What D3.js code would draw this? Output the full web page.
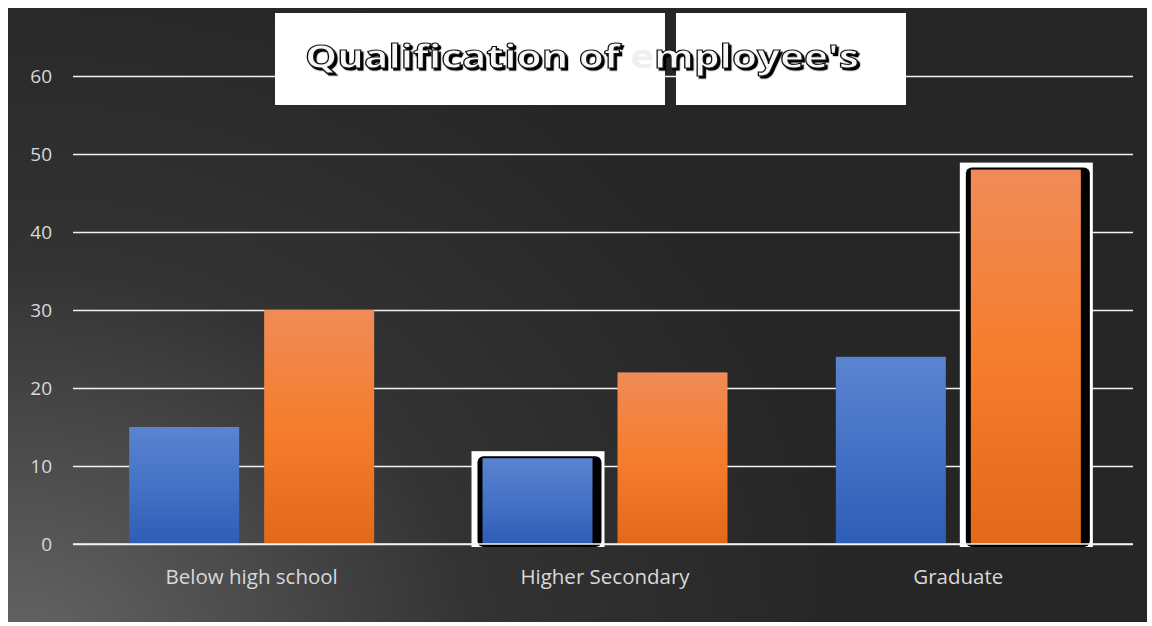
<!DOCTYPE html>
<html><head><meta charset="utf-8">
<script src="https://cdn.jsdelivr.net/npm/d3@7"></script>
<style>html,body{margin:0;padding:0;background:#fff;}svg{display:block;}</style>
</head><body>
<script>
const categories = ["Below high school", "Higher Secondary", "Graduate"];
const seriesA = [15, 11, 24];
const seriesB = [30, 22, 48];
const yTicks = [0, 10, 20, 30, 40, 50, 60];
const titleText = "Qualification of employee's";

const W = 1152, H = 626;
const svg = d3.select("body").append("svg").attr("width", W).attr("height", H);
const defs = svg.append("defs");

const bg = defs.append("radialGradient").attr("id", "bg").attr("gradientUnits", "userSpaceOnUse")
  .attr("cx", 20).attr("cy", 660).attr("r", 720)
  .attr("gradientTransform", "translate(20,660) scale(1.15,1) translate(-20,-660)");
bg.append("stop").attr("offset", "0").attr("stop-color", "#666666");
bg.append("stop").attr("offset", "0.55").attr("stop-color", "#333333");
bg.append("stop").attr("offset", "1").attr("stop-color", "#262626");

const gb = defs.append("linearGradient").attr("id", "gb").attr("x1", 0).attr("x2", 0).attr("y1", 0).attr("y2", 1);
gb.append("stop").attr("offset", "0").attr("stop-color", "#5b84d0");
gb.append("stop").attr("offset", "0.5").attr("stop-color", "#4472c6");
gb.append("stop").attr("offset", "1").attr("stop-color", "#2e5db6");
const go = defs.append("linearGradient").attr("id", "go").attr("x1", 0).attr("x2", 0).attr("y1", 0).attr("y2", 1);
go.append("stop").attr("offset", "0").attr("stop-color", "#f08b58");
go.append("stop").attr("offset", "0.5").attr("stop-color", "#f57d2c");
go.append("stop").attr("offset", "1").attr("stop-color", "#e2691a");

const sh = defs.append("filter").attr("id", "tsh").attr("x", "-5%").attr("y", "-20%").attr("width", "110%").attr("height", "150%");
sh.append("feDropShadow").attr("dx", 2.2).attr("dy", 2.2).attr("stdDeviation", 0.4).attr("flood-color", "#000").attr("flood-opacity", 1);

svg.append("rect").attr("x", 8).attr("y", 8).attr("width", 1139).attr("height", 614).attr("fill", "url(#bg)");

const x = d3.scaleBand().domain(categories).range([75, 1135]).paddingInner(0).paddingOuter(0);
const y = d3.scaleLinear().domain([0, 60]).range([544, 76]);

// gridlines
const yAxis = d3.axisLeft(y).tickValues(yTicks).tickSize(-(1133 - 73)).tickPadding(20);
const gy = svg.append("g").attr("transform", "translate(73,0)").call(yAxis);
gy.select(".domain").remove();
gy.selectAll(".tick line").attr("stroke", "#f2f2f2").attr("stroke-width", 1.6);
gy.selectAll(".tick text").attr("fill", "#d9d9d9").attr("font-family", "'Open Sans', sans-serif")
  .attr("font-size", 19).attr("x", -21);

const bw = 110, gap = 25;
const data = categories.map((c, i) => ({c, a: seriesA[i], b: seriesB[i]}));

// highlight frames (selection-like boxes)
const highlights = [{cat: 1, s: 0}, {cat: 2, s: 1}];
highlights.forEach(h => {
  const cx = x(categories[h.cat]) + x.bandwidth() / 2;
  const bx = h.s === 0 ? cx - gap / 2 - bw : cx + gap / 2;
  const v = h.s === 0 ? seriesA[h.cat] : seriesB[h.cat];
  const top = y(v);
  svg.append("rect").attr("x", bx - 11).attr("y", top - 7).attr("width", bw + 23).attr("height", y(0) - top + 10)
    .attr("fill", "#ffffff");
  svg.append("rect").attr("x", bx - 5).attr("y", top - 2).attr("width", bw + 14).attr("height", y(0) - top + 5)
    .attr("rx", 6).attr("fill", "#000000");
});

const g = svg.append("g");
data.forEach(d => {
  const cx = x(d.c) + x.bandwidth() / 2;
  g.append("rect").attr("x", cx - gap / 2 - bw).attr("y", y(d.a)).attr("width", bw).attr("height", y(0) - y(d.a)).attr("fill", "url(#gb)");
  g.append("rect").attr("x", cx + gap / 2).attr("y", y(d.b)).attr("width", bw).attr("height", y(0) - y(d.b)).attr("fill", "url(#go)");
});

// baseline redraw
svg.append("line").attr("x1", 73).attr("x2", 1133).attr("y1", y(0)).attr("y2", y(0)).attr("stroke", "#f2f2f2").attr("stroke-width", 1.6);

// x labels
const xAxis = d3.axisBottom(x).tickSize(0).tickPadding(25);
const gx = svg.append("g").attr("transform", `translate(0,${y(0)})`).call(xAxis);
gx.select(".domain").remove();
gx.selectAll(".tick text").attr("fill", "#d9d9d9").attr("font-family", "'Open Sans', sans-serif").attr("font-size", 20.5);

// title boxes
svg.append("rect").attr("x", 275).attr("y", 13).attr("width", 390).attr("height", 92).attr("fill", "#ffffff");
svg.append("rect").attr("x", 676).attr("y", 13).attr("width", 230).attr("height", 92).attr("fill", "#ffffff");

const tt = svg.append("text").attr("x", 305).attr("y", 68).attr("font-family", "'Open Sans', sans-serif")
  .attr("font-weight", 700).attr("font-size", 33).attr("textLength", 554).attr("lengthAdjust", "spacingAndGlyphs");
tt.append("tspan").attr("fill", "#f7f7f7").attr("stroke", "#111").attr("stroke-width", 1.1).attr("filter", "url(#tsh)").text("Qualification of ");
tt.append("tspan").attr("fill", "#efefef").text("e");
tt.append("tspan").attr("fill", "#f7f7f7").attr("stroke", "#111").attr("stroke-width", 1.1).attr("filter", "url(#tsh)").text("mployee's");
</script>
</body></html>
